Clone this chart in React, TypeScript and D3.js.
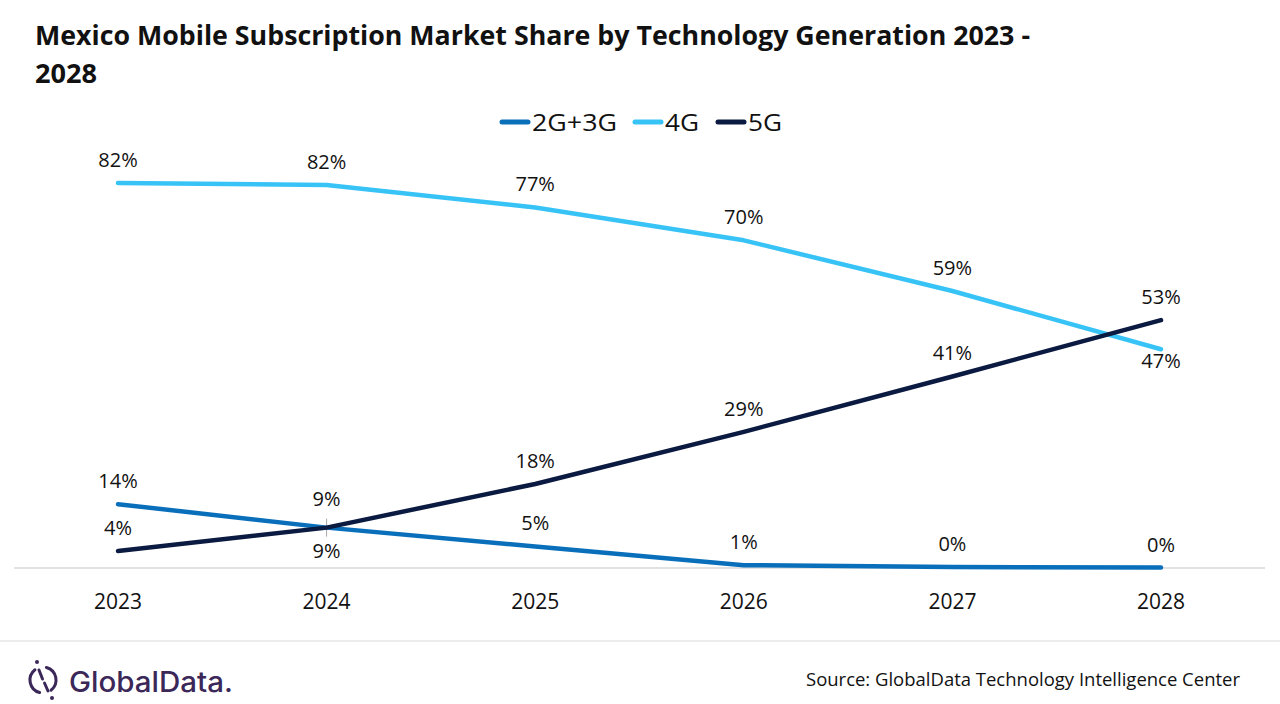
import { useEffect, useRef } from 'react';
import * as d3 from 'd3';

const years = ['2023', '2024', '2025', '2026', '2027', '2028'];
const gen23 = [13.6, 8.6, 4.6, 0.6, 0.2, 0.1];
const gen4 = [82.0, 81.6, 76.8, 69.8, 59.0, 46.6];
const gen5 = [3.6, 8.6, 17.9, 29.0, 40.8, 52.8];
const seriesNames = ['2G+3G', '4G', '5G'];
const seriesColors = ['#0a6fba', '#38c3f7', '#0b1a40'];
// label above (-1) or below (+1) each point
const place23 = [-1, -1, -1, -1, -1, -1];
const place4 = [-1, -1, -1, -1, -1, 1];
const place5 = [-1, 1, -1, -1, -1, -1];

export default function App() {
  const svgRef = useRef<SVGSVGElement>(null);

  useEffect(() => {
    if (!svgRef.current) return;
    const svg = d3.select(svgRef.current);
    svg.selectAll('*').remove();

    const width = 1280;
    const height = 704;
    const font = "'Open Sans', 'Noto Sans', sans-serif";

    svg.attr('width', width).attr('height', height).style('display', 'block');
    svg.append('rect').attr('width', width).attr('height', height).attr('fill', '#fff');

    // Title
    const title = svg.append('text')
      .attr('font-family', font)
      .attr('font-weight', 'bold')
      .attr('font-size', 26)
      .attr('fill', '#111');
    title.append('tspan').attr('x', 35).attr('y', 45)
      .attr('textLength', 995).attr('lengthAdjust', 'spacingAndGlyphs')
      .text('Mexico Mobile Subscription Market Share by Technology Generation 2023 -');
    title.append('tspan').attr('x', 35).attr('y', 83)
      .attr('textLength', 62).attr('lengthAdjust', 'spacingAndGlyphs')
      .text('2028');

    // Legend
    const legendX = [500, 633, 716];
    const legendW = [85, 34, 34];
    seriesNames.forEach((name, i) => {
      svg.append('line')
        .attr('x1', legendX[i] + 2).attr('x2', legendX[i] + 28)
        .attr('y1', 122).attr('y2', 122)
        .attr('stroke', seriesColors[i]).attr('stroke-width', 5)
        .attr('stroke-linecap', 'round');
      svg.append('text')
        .attr('x', legendX[i] + 32).attr('y', 131)
        .attr('font-family', font).attr('font-size', 24).attr('fill', '#111')
        .attr('textLength', legendW[i]).attr('lengthAdjust', 'spacingAndGlyphs')
        .text(name);
    });

    // Scales
    const x = d3.scalePoint<string>().domain(years).range([118, 1161]);
    const y = d3.scaleLinear().domain([0, 90]).range([568, 145.5]);

    // Axis baseline
    svg.append('line')
      .attr('x1', 14).attr('x2', 1265)
      .attr('y1', y(0)).attr('y2', y(0))
      .attr('stroke', '#d9d9d9').attr('stroke-width', 1.5);

    // Category labels
    years.forEach(yr => {
      svg.append('text')
        .attr('x', x(yr)!).attr('y', 609)
        .attr('text-anchor', 'middle')
        .attr('font-family', font).attr('font-size', 21).attr('fill', '#111')
        .text(yr);
    });

    // small leader tick at 2024 crossing
    svg.append('line')
      .attr('x1', x('2024')!).attr('x2', x('2024')!)
      .attr('y1', y(8.6) - 9).attr('y2', y(8.6) + 9)
      .attr('stroke', '#a6a6a6').attr('stroke-width', 1);

    const all = [gen23, gen4, gen5];
    const places = [place23, place4, place5];

    const line = d3.line<number>()
      .x((_, i) => x(years[i])!)
      .y(d => y(d));

    all.forEach((vals, s) => {
      svg.append('path')
        .datum(vals)
        .attr('d', line)
        .attr('fill', 'none')
        .attr('stroke', seriesColors[s])
        .attr('stroke-width', 4.5)
        .attr('stroke-linecap', 'round')
        .attr('stroke-linejoin', 'round');
    });

    all.forEach((vals, s) => {
      vals.forEach((v, i) => {
        const p = places[s][i];
        let dy = p < 0 ? -16 : 30;
        if (s === 0 && i === 1) dy = -22;
        if (s === 1 && i === 5) dy = 19;
        svg.append('text')
          .attr('x', x(years[i])!)
          .attr('y', y(v) + dy)
          .attr('text-anchor', 'middle')
          .attr('font-family', font).attr('font-size', 20).attr('fill', '#111')
          .text(`${Math.round(v)}%`);
      });
    });

    // Footer separator
    svg.append('line')
      .attr('x1', 0).attr('x2', width)
      .attr('y1', 641).attr('y2', 641)
      .attr('stroke', '#e6e6e6').attr('stroke-width', 1.5);

    // Logo
    const purple = '#3b2859';
    const logo = svg.append('g').attr('transform', 'translate(43, 680)');
    const arc = d3.arc<any>().innerRadius(11.5).outerRadius(14.5).cornerRadius(1.5);
    logo.append('path')
      .attr('d', arc({ startAngle: 0.15, endAngle: Math.PI - 0.55 } as any) as string)
      .attr('fill', purple);
    logo.append('path')
      .attr('d', arc({ startAngle: Math.PI + 0.15, endAngle: 2 * Math.PI - 0.55 } as any) as string)
      .attr('fill', purple);
    logo.append('line')
      .attr('x1', -4).attr('y1', -10).attr('x2', -0.5).attr('y2', -1)
      .attr('stroke', purple).attr('stroke-width', 3).attr('stroke-linecap', 'round');
    logo.append('line')
      .attr('x1', 1.5).attr('y1', 3).attr('x2', 5).attr('y2', 11)
      .attr('stroke', purple).attr('stroke-width', 3).attr('stroke-linecap', 'round');
    logo.append('circle').attr('cx', -6).attr('cy', -18).attr('r', 2).attr('fill', purple);
    logo.append('circle').attr('cx', 9).attr('cy', 18).attr('r', 2).attr('fill', purple);
    svg.append('text')
      .attr('x', 69).attr('y', 692)
      .attr('font-family', "'Inter', 'Lato', sans-serif")
      .attr('font-weight', 500)
      .attr('font-size', 28)
      .attr('fill', purple)
      .attr('textLength', 164).attr('lengthAdjust', 'spacingAndGlyphs')
      .text('GlobalData.');

    // Source
    svg.append('text')
      .attr('x', 1240).attr('y', 686)
      .attr('text-anchor', 'end')
      .attr('font-family', font).attr('font-size', 18.5).attr('fill', '#111')
      .attr('textLength', 434).attr('lengthAdjust', 'spacingAndGlyphs')
      .text('Source: GlobalData Technology Intelligence Center');
  }, []);

  return (
    <div style={{ position: 'absolute', left: 0, top: 0 }}>
      <svg ref={svgRef}></svg>
    </div>
  );
}
